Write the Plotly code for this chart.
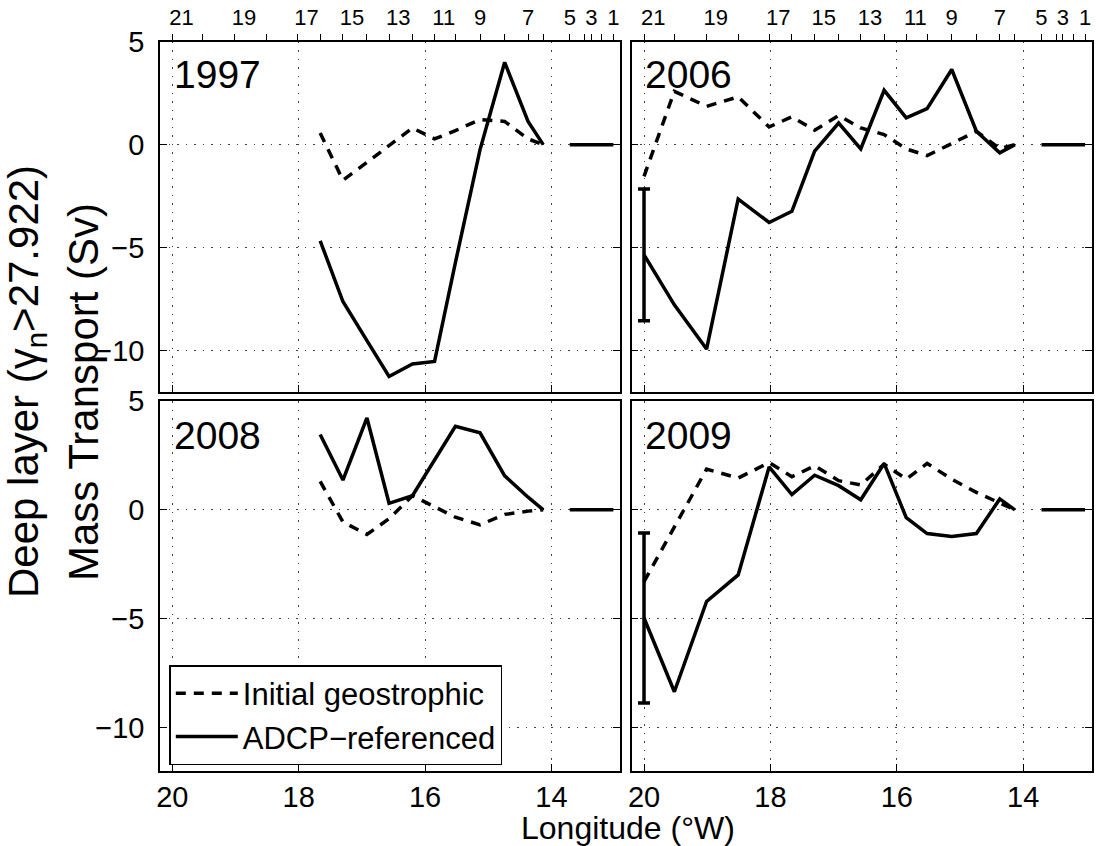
import plotly.graph_objects as go

# CTD stations along the section, numbered west (21) to east (1)
station_num = list(range(21, 0, -1))
station_lon = [20.00, 19.52, 19.01, 18.51, 18.02, 17.66, 17.30, 16.92, 16.57,
               16.20, 15.85, 15.52, 15.13, 14.74, 14.37, 14.13,
               13.71, 13.48, 13.37, 13.21, 13.02]

# offshore stations 21..6 carry the cumulative transport; shelf stations 5..1 are zero
offshore_lon = station_lon[:16]
shelf_lon = station_lon[16:]
shelf_transport = [0.0, 0.0, 0.0, 0.0, 0.0]

# 1997 (stations 16..6), Sv
geo_1997 = [0.57, -1.73, -0.86, -0.06, 0.81, 0.28, 0.68, 1.22, 1.13, 0.28, 0.0]
adcp_1997 = [-4.67, -7.62, -9.52, -11.26, -10.65, -10.53, -5.73, -0.24, 4.00, 1.13, 0.0]

# 2006 (stations 21..6), Sv
geo_2006 = [-1.54, 2.59, 1.86, 2.32, 0.86, 1.35, 0.70, 1.41, 0.81, 0.49,
            -0.21, -0.53, 0.05, 0.65, -0.20, 0.0]
adcp_2006 = [-5.35, -7.78, -9.93, -2.64, -3.78, -3.24, -0.32, 1.05, -0.21, 2.64,
             1.30, 1.75, 3.65, 0.65, -0.40, 0.0]
err_2006 = 3.2

# 2008 (stations 16..6), Sv
geo_2008 = [1.31, -0.56, -1.13, -0.41, 0.65, 0.12, -0.34, -0.69, -0.21, -0.06, 0.0]
adcp_2008 = [3.46, 1.37, 4.22, 0.30, 0.65, 2.29, 3.84, 3.54, 1.56, 0.58, 0.0]

# 2009 (stations 21..6), Sv
geo_2009 = [-3.30, -0.77, 1.87, 1.46, 2.17, 1.52, 2.02, 1.34, 1.14, 2.10,
            1.41, 2.13, 1.41, 0.80, 0.30, 0.0]
adcp_2009 = [-4.97, -8.36, -4.21, -2.99, 1.97, 0.70, 1.59, 1.11, 0.46, 2.13,
             -0.36, -1.09, -1.22, -1.09, 0.50, 0.0]
err_2009 = 3.9

lon_ticks = [20, 18, 16, 14]
transport_ticks = [-10, -5, 0, 5]
station_labels = [("\u00a0\u00a0\u00a0" + str(n)) if (n % 2 == 1 and n >= 10)
                  else (str(n) if n % 2 == 1 else "") for n in station_num]

FONT = "Liberation Sans, Arial, Helvetica, sans-serif"
LW = 3.5
DASH = "10px,8px"

panels = [
    dict(year="1997", xa="x", ya="y", first=16, geo=geo_1997, adcp=adcp_1997, err=None, legend=False),
    dict(year="2006", xa="x2", ya="y2", first=21, geo=geo_2006, adcp=adcp_2006, err=err_2006, legend=False),
    dict(year="2008", xa="x3", ya="y3", first=16, geo=geo_2008, adcp=adcp_2008, err=None, legend=True),
    dict(year="2009", xa="x4", ya="y4", first=21, geo=geo_2009, adcp=adcp_2009, err=err_2009, legend=False),
]

fig = go.Figure()
for p in panels:
    i0 = 21 - p["first"]
    lon = offshore_lon[i0:]
    # shelf segment
    fig.add_trace(go.Scatter(x=shelf_lon, y=shelf_transport, mode="lines",
                             line=dict(color="black", width=LW),
                             xaxis=p["xa"], yaxis=p["ya"], showlegend=False, hoverinfo="skip"))
    fig.add_trace(go.Scatter(x=lon, y=p["geo"], mode="lines", name="Initial geostrophic",
                             line=dict(color="black", width=LW, dash=DASH),
                             xaxis=p["xa"], yaxis=p["ya"], showlegend=p["legend"]))
    fig.add_trace(go.Scatter(x=lon, y=p["adcp"], mode="lines", name="ADCP\u2212referenced",
                             line=dict(color="black", width=LW),
                             xaxis=p["xa"], yaxis=p["ya"], showlegend=p["legend"]))
    if p["err"] is not None:
        fig.add_trace(go.Scatter(x=[lon[0]], y=[p["adcp"][0]], mode="markers",
                                 marker=dict(size=1, color="black"),
                                 error_y=dict(type="data", array=[p["err"]], visible=True,
                                              color="black", thickness=LW, width=6),
                                 xaxis=p["xa"], yaxis=p["ya"], showlegend=False, hoverinfo="skip"))

# station-number axes on top of the upper panels
for xa, ya in [("x5", "y"), ("x6", "y2")]:
    fig.add_trace(go.Scatter(x=station_lon, y=[None] * len(station_lon), mode="lines",
                             xaxis=xa, yaxis=ya, showlegend=False, hoverinfo="skip"))

XR = [20.195, 12.915]
YR = [-12, 5]
dom_left = [160 / 1098, 620 / 1098]
dom_right = [631.7 / 1098, 1091.7 / 1098]
dom_top = [1 - 391.7 / 846, 1 - 41.7 / 846]
dom_bot = [1 - 771 / 846, 1 - 401 / 846]

grid = dict(showgrid=True, gridcolor="rgba(0,0,0,0.75)", gridwidth=1, griddash="1.5px,7px")
frame = dict(showline=True, linecolor="black", linewidth=1.5, zeroline=False,
             ticks="inside", ticklen=7, tickwidth=1, tickcolor="black", automargin=False)


def xax(dom, anchor, labels):
    return dict(domain=dom, anchor=anchor, range=XR, tickvals=lon_ticks,
                showticklabels=labels, mirror=True,
                tickfont=dict(family=FONT, size=29, color="black"),
                ticklabelstandoff=-1, **grid, **frame)


def yax(dom, anchor, labels):
    return dict(domain=dom, anchor=anchor, range=YR, tickvals=transport_ticks,
                showticklabels=labels, mirror="ticks",
                tickfont=dict(family=FONT, size=29, color="black"),
                ticklabelstandoff=8, **grid, **frame)


def stax(over, anchor):
    return dict(overlaying=over, anchor=anchor, side="top", range=XR,
                tickvals=station_lon, ticktext=station_labels, ticks="outside",
                ticklen=7, tickwidth=1, tickcolor="black", showgrid=False,
                showline=False, zeroline=False, automargin=False,
                tickfont=dict(family=FONT, size=22, color="black"))


fig.update_layout(
    width=1098, height=846,
    margin=dict(l=0, r=0, t=0, b=0, autoexpand=False),
    paper_bgcolor="white", plot_bgcolor="white",
    font=dict(family=FONT, color="black"),
    xaxis=xax(dom_left, "y", False),
    yaxis=yax(dom_top, "x", True),
    xaxis2=xax(dom_right, "y2", False),
    yaxis2=yax(dom_top, "x2", False),
    xaxis3=xax(dom_left, "y3", True),
    yaxis3=yax(dom_bot, "x3", True),
    xaxis4=xax(dom_right, "y4", True),
    yaxis4=yax(dom_bot, "x4", False),
    xaxis5=stax("x", "y"),
    xaxis6=stax("x2", "y2"),
    legend=dict(x=169.3 / 1098, y=1 - 765 / 846, xanchor="left", yanchor="bottom",
                bgcolor="white", bordercolor="black", borderwidth=1.5,
                font=dict(family=FONT, size=31, color="black"),
                itemwidth=62, tracegroupgap=0),
    showlegend=True,
)

# year labels inside each panel
for p, (xd, yc) in zip(panels, [(172, 75), (643, 75), (172, 435), (643, 435)]):
    fig.add_annotation(text=p["year"], xref="paper", yref="paper",
                       x=xd / 1098, y=1 - yc / 846, xanchor="left", yanchor="middle",
                       showarrow=False, font=dict(family=FONT, size=39, color="black"))

# axis titles
fig.add_annotation(text="Deep layer (\u03b3<sub>n</sub>>27.922)", xref="paper", yref="paper",
                   x=26 / 1098, y=1 - 382 / 846, textangle=-90, showarrow=False,
                   xanchor="center", yanchor="middle",
                   font=dict(family=FONT, size=42, color="black"))
fig.add_annotation(text="Mass Transport (Sv)", xref="paper", yref="paper",
                   x=83 / 1098, y=1 - 392 / 846, textangle=-90, showarrow=False,
                   xanchor="center", yanchor="middle",
                   font=dict(family=FONT, size=42, color="black"))
fig.add_annotation(text="Longitude (\u00b0W)", xref="paper", yref="paper",
                   x=628 / 1098, y=1 - 828 / 846, showarrow=False,
                   xanchor="center", yanchor="middle",
                   font=dict(family=FONT, size=32, color="black"))

fig.write_html("out.html")
